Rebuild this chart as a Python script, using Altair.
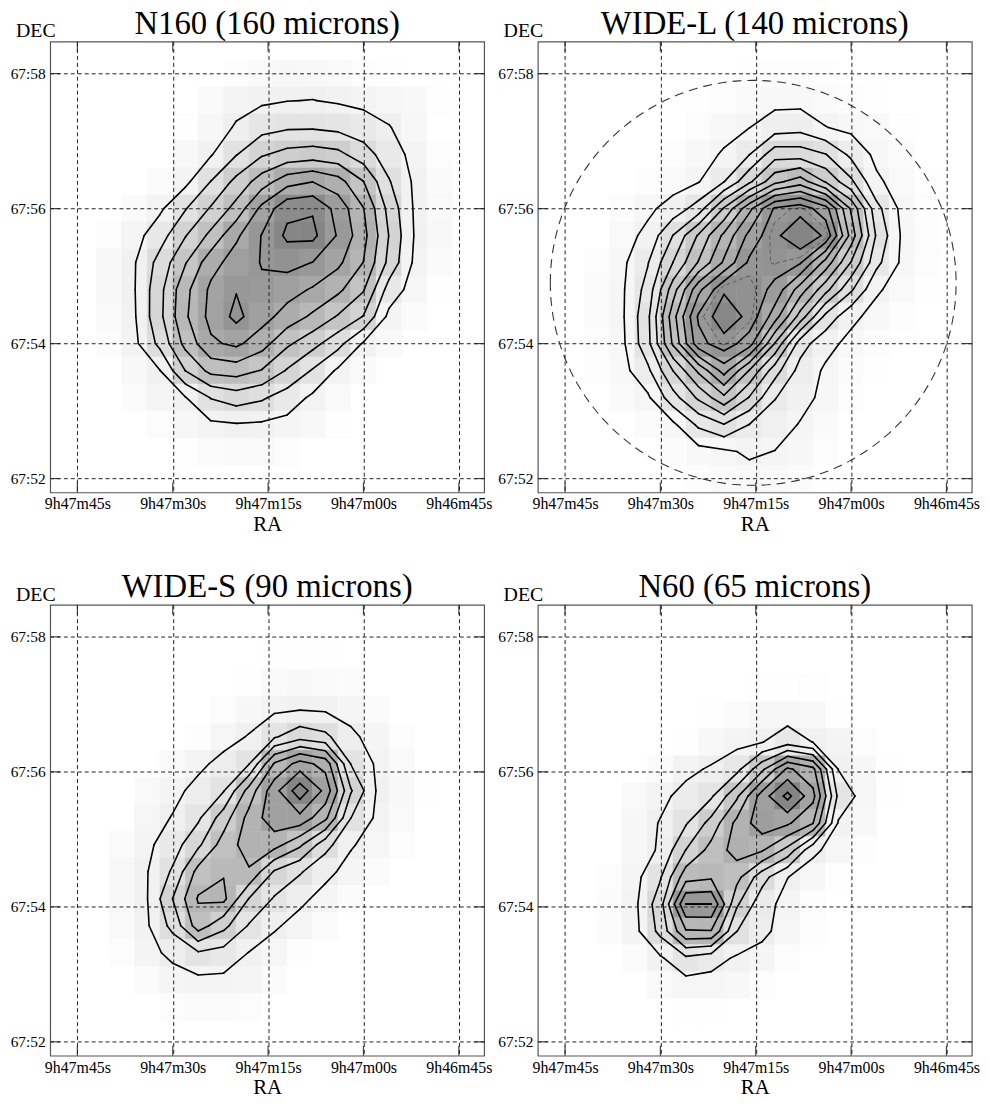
import altair as alt
import pandas as pd
import numpy as np

SERIF = "Liberation Serif"

# ---------------- axes / layout values ----------------
RA_TICKS = [45, 30, 15, 0, -15]               # seconds of RA relative to 9h47m00s
RA_LABELS = ["9h47m45s", "9h47m30s", "9h47m15s", "9h47m00s", "9h46m45s"]
DEC_TICKS = [52, 54, 56, 58]                  # arcmin above +67 deg
DEC_LABELS = ["67:52", "67:54", "67:56", "67:58"]

RA_LEFT, RA_RIGHT = 49.28, -18.98
DEC_BOTTOM, DEC_TOP = 51.794, 58.475
PANEL_W, PANEL_H = 437.3, 454.4

TITLES = ["N160 (160 microns)", "WIDE-L (140 microns)", "WIDE-S (90 microns)", "N60 (65 microns)"]

# ---------------- surface-brightness maps (values in units of contour step) ----------------
N160_RA = [40, 36, 32, 28, 24, 20, 16, 12, 8, 4, 0, -4, -8, -12]
N160_DEC = [58.0, 57.6, 57.2, 56.8, 56.4, 56.0, 55.6, 55.2, 54.8, 54.4, 54.0, 53.6, 53.2, 52.8, 52.4]
N160_MAP = [
    [0, 0, 0, 0, 0, 0.2, 0.4, 0.53, 0.5, 0.4, 0.2, 0.1, 0, 0],
    [0, 0, 0, 0, 0.35, 0.72, 0.85, 0.98, 1.02, 0.9, 0.76, 0.6, 0.44, 0.1],
    [0, 0, 0, 0.09, 0.57, 1.09, 1.66, 1.89, 1.91, 1.76, 1.46, 1.05, 0.55, 0],
    [0, 0, 0, 0.44, 0.93, 1.96, 2.89, 3.34, 3.49, 3.28, 2.46, 1.48, 0.72, 0.2],
    [0, 0, 0.28, 0.76, 2.02, 3.28, 4.49, 5.6, 5.98, 5.4, 4.02, 2.08, 0.85, 0.35],
    [0, 0.36, 0.84, 1.94, 3.10, 4.36, 6.27, 7.75, 7.9, 6.64, 5.04, 2.68, 0.9, 0.4],
    [0.17, 0.65, 1.58, 2.95, 4.26, 5.82, 7.04, 8.2, 8.25, 6.9, 5.33, 2.98, 0.96, 0.45],
    [0.45, 0.94, 2.37, 3.94, 5.61, 6.47, 7.05, 7.34, 6.98, 6.22, 4.98, 2.73, 0.84, 0.35],
    [0.47, 0.96, 2.72, 4.72, 6.2, 6.95, 6.85, 6.41, 5.89, 5.23, 4.09, 1.58, 0.59, 0.1],
    [0.43, 0.91, 2.77, 4.85, 6.31, 7.25, 6.4, 5.58, 4.82, 3.9, 2.95, 0.75, 0.27, 0],
    [0.3, 0.78, 2.27, 4.31, 5.83, 6.21, 5.42, 4.18, 3.34, 2.33, 0.88, 0.4, 0, 0],
    [0, 0.5, 0.98, 3.02, 4.31, 4.45, 3.95, 2.91, 1.91, 0.84, 0.36, 0, 0, 0],
    [0, 0.25, 0.65, 0.96, 2.05, 2.48, 2.15, 1.52, 0.82, 0.4, 0, 0, 0, 0],
    [0, 0, 0.2, 0.56, 0.83, 0.93, 0.87, 0.71, 0.44, 0.1, 0, 0, 0, 0],
    [0, 0, 0, 0.05, 0.3, 0.41, 0.38, 0.2, 0, 0, 0, 0, 0, 0],
]
N160_LEVELS = [1, 2, 3, 4, 5, 6, 7, 8]

WIDEL_RA = [40, 36, 32, 28, 24, 20, 16, 12, 8, 4, 0, -4, -8, -12]
WIDEL_DEC = [58.0, 57.6, 57.2, 56.8, 56.4, 56.0, 55.6, 55.2, 54.8, 54.4, 54.0, 53.6, 53.2, 52.8, 52.4, 52.0]
WIDEL_MAP = [
    [0, 0, 0, 0, 0, 0, 0.1, 0.25, 0.25, 0.15, 0, 0, 0, 0],
    [0, 0, 0, 0, 0.05, 0.25, 0.62, 0.72, 0.71, 0.47, 0.25, 0.05, 0, 0],
    [0, 0, 0, 0, 0.25, 0.7, 0.99, 1.52, 1.65, 1.03, 0.76, 0.56, 0.1, 0],
    [0, 0, 0, 0.27, 0.66, 1.1, 1.99, 3.6, 3.55, 3.05, 1.77, 0.75, 0.38, 0],
    [0, 0, 0.2, 0.6, 0.95, 1.97, 3.8, 5.7, 6.5, 4.9, 3.2, 1.18, 0.55, 0.1],
    [0, 0.3, 0.79, 1.4, 2.45, 5.11, 7.74, 10.15, 10.6, 9.4, 5.86, 2.32, 0.74, 0.2],
    [0, 0.6, 1.26, 3.03, 5.13, 7.22, 9.29, 10.74, 11.9, 10.8, 6.6, 2.86, 0.87, 0.3],
    [0.3, 0.79, 1.93, 4.02, 6.08, 8.16, 10.2, 10.5, 10.1, 7.61, 4.95, 2.28, 0.82, 0.3],
    [0.38, 0.86, 2.37, 5.55, 8.72, 10.85, 10.71, 9.69, 7.51, 5.34, 3.16, 1.14, 0.56, 0.08],
    [0.38, 0.86, 2.75, 6.6, 10.16, 11.7, 10.7, 8.47, 5.59, 2.71, 1.25, 0.64, 0.15, 0],
    [0.3, 0.79, 2.68, 6.16, 9.65, 10.57, 9.45, 5.95, 2.45, 1.32, 0.72, 0.25, 0, 0],
    [0.2, 0.67, 1.77, 4.02, 6.21, 8.42, 5.94, 3.43, 1.62, 0.85, 0.38, 0.05, 0, 0],
    [0, 0.5, 0.83, 2.61, 4.19, 5.77, 3.93, 2.05, 1.33, 0.75, 0.25, 0, 0, 0],
    [0, 0, 0.35, 0.8, 2.2, 2.97, 1.99, 1.47, 0.94, 0.45, 0, 0, 0, 0],
    [0, 0, 0, 0.35, 0.66, 0.84, 1.15, 0.98, 0.75, 0.3, 0, 0, 0, 0],
    [0, 0, 0, 0, 0.2, 0.45, 0.66, 0.6, 0.35, 0.05, 0, 0, 0, 0],
]
WIDEL_LEVELS = [1, 2, 3, 4, 5, 6, 7, 8, 9, 10, 11]
WIDEL_DASHED_LEVELS = [10.45]     # faint dashed inner contour drawn on the WIDE-L map
# dashed aperture circle on the WIDE-L map: centre (RA s, Dec '), radius in arcmin
BEAM_RA, BEAM_DEC, BEAM_RADIUS_ARCMIN = 15.4, 54.9, 3.0

WIDES_RA = [42, 38, 34, 30, 26, 22, 18, 14, 10, 6, 2, -2, -6, -10]
WIDES_DEC = [57.72, 57.32, 56.92, 56.52, 56.12, 55.72, 55.32, 54.92, 54.52, 54.12, 53.72, 53.32, 52.92, 52.52]
WIDES_MAP = [
    [0, 0, 0, 0, 0, 0, 0, 0.05, 0.1, 0.05, 0, 0, 0, 0],
    [0, 0, 0, 0, 0, 0, 0.06, 0.44, 0.49, 0.44, 0.25, 0, 0, 0],
    [0, 0, 0, 0, 0, 0.19, 0.56, 0.86, 0.98, 0.9, 0.72, 0.31, 0, 0],
    [0, 0, 0, 0, 0.15, 0.66, 1.06, 1.89, 2.62, 2.23, 1.17, 0.69, 0.2, 0],
    [0, 0, 0, 0.44, 0.79, 1.28, 1.95, 5.11, 6.39, 5.65, 1.98, 0.88, 0.4, 0],
    [0, 0, 0.44, 0.75, 1.28, 1.94, 4.41, 6.65, 8.6, 6.71, 3.11, 0.98, 0.5, 0.05],
    [0, 0, 0.6, 1.05, 1.82, 3.51, 5.33, 6.63, 6.72, 5.26, 2.02, 0.86, 0.4, 0],
    [0, 0.3, 0.81, 1.53, 2.79, 4.45, 5.45, 5.39, 4.19, 2.38, 1.08, 0.66, 0.2, 0],
    [0, 0.5, 0.97, 2.14, 4.35, 4.92, 4.9, 2.88, 2.11, 1.22, 0.72, 0.25, 0, 0],
    [0, 0.52, 0.98, 3.02, 5.1, 5.25, 2.96, 1.9, 1.19, 0.72, 0.3, 0, 0, 0],
    [0, 0.43, 0.9, 2.31, 4.5, 3.3, 1.91, 1.11, 0.7, 0.25, 0, 0, 0, 0],
    [0, 0.2, 0.75, 1.2, 1.9, 1.63, 0.97, 0.62, 0.15, 0, 0, 0, 0, 0],
    [0, 0, 0.3, 0.69, 0.81, 0.8, 0.69, 0.3, 0, 0, 0, 0, 0, 0],
    [0, 0, 0, 0.2, 0.31, 0.31, 0.2, 0, 0, 0, 0, 0, 0, 0],
]
WIDES_LEVELS = [1, 2, 3, 4, 5, 6, 7, 8]

N60_RA = [42, 38, 34, 30, 26, 22, 18, 14, 10, 6, 2, -2, -6, -10]
N60_DEC = [57.64, 57.24, 56.84, 56.44, 56.04, 55.64, 55.24, 54.84, 54.44, 54.04, 53.64, 53.24, 52.84, 52.44]
N60_MAP = [
    [0, 0, 0, 0, 0, 0, 0, 0, 0, 0, 0, 0, 0, 0],
    [0, 0, 0, 0, 0, 0, 0, 0.05, 0.1, 0.05, 0, 0, 0, 0],
    [0, 0, 0, 0, 0, 0.05, 0.3, 0.53, 0.61, 0.5, 0.1, 0, 0, 0],
    [0, 0, 0, 0, 0.1, 0.5, 0.75, 0.97, 1.58, 0.98, 0.72, 0.2, 0, 0],
    [0, 0, 0, 0.3, 0.79, 1.1, 1.66, 3.77, 6.19, 5.28, 0.97, 0.52, 0.05, 0],
    [0, 0, 0.38, 0.8, 1.27, 1.86, 3.81, 6.5, 8.3, 6.32, 1.76, 0.6, 0.1, 0],
    [0, 0, 0.56, 1.05, 1.9, 3.37, 5.27, 6.6, 6.16, 5.04, 0.9, 0.45, 0, 0],
    [0, 0, 0.56, 1.11, 3.02, 4.35, 5.4, 5.1, 3.68, 1.19, 0.6, 0.15, 0, 0],
    [0, 0.2, 0.71, 1.91, 4.6, 4.85, 4.35, 2.38, 1.02, 0.55, 0.1, 0, 0, 0],
    [0, 0.3, 0.8, 2.58, 7.0, 7.0, 3.16, 1.37, 0.68, 0.2, 0, 0, 0, 0],
    [0, 0.25, 0.74, 2.29, 4.9, 4.95, 2.02, 1.2, 0.64, 0.15, 0, 0, 0, 0],
    [0, 0, 0.3, 0.87, 1.8, 1.4, 0.87, 0.69, 0.2, 0, 0, 0, 0, 0],
    [0, 0, 0, 0.44, 0.59, 0.6, 0.5, 0.2, 0, 0, 0, 0, 0, 0],
    [0, 0, 0, 0, 0.06, 0.06, 0, 0, 0, 0, 0, 0, 0, 0],
]
N60_LEVELS = [1, 2, 3, 4, 5, 6, 7, 8]


# ---------------- helpers ----------------
def label_expr(vals, labels):
    e = "''"
    for v, l in reversed(list(zip(vals, labels))):
        e = f"datum.value == {v} ? '{l}' : ({e})"
    return e


def image_cells(ras, decs, grid):
    vmax = max(max(r) for r in grid)
    hx = abs(ras[1] - ras[0]) / 2.0
    hy = abs(decs[1] - decs[0]) / 2.0
    rows = []
    for i, d in enumerate(decs):
        for j, r in enumerate(ras):
            v = grid[i][j]
            if v < 0.05:
                continue
            g = int(round(255 - 122 * min(1.0, v / vmax)))
            rows.append({"x": r + hx, "x2": r - hx, "y": d - hy, "y2": d + hy,
                         "shade": "#%02x%02x%02x" % (g, g, g)})
    return pd.DataFrame(rows)


def contour_segments(ras, decs, grid, levels):
    out = []
    for i in range(len(decs) - 1):
        for j in range(len(ras) - 1):
            c = [(ras[j], decs[i], grid[i][j]), (ras[j + 1], decs[i], grid[i][j + 1]),
                 (ras[j + 1], decs[i + 1], grid[i + 1][j + 1]), (ras[j], decs[i + 1], grid[i + 1][j])]
            for L in levels:
                pts = []
                for k in range(4):
                    x0, y0, v0 = c[k]
                    x1, y1, v1 = c[(k + 1) % 4]
                    if (v0 >= L) != (v1 >= L):
                        t = (L - v0) / (v1 - v0)
                        pts.append((x0 + t * (x1 - x0), y0 + t * (y1 - y0)))
                    else:
                        pts.append(None)
                found = [p for p in pts if p is not None]
                pairs = []
                if len(found) == 2:
                    pairs = [(found[0], found[1])]
                elif len(found) == 4:
                    centre = sum(cc[2] for cc in c) / 4.0
                    if (centre >= L) == (c[0][2] >= L):
                        pairs = [(pts[0], pts[1]), (pts[2], pts[3])]
                    else:
                        pairs = [(pts[3], pts[0]), (pts[1], pts[2])]
                for p, q in pairs:
                    out.append({"x": p[0], "y": p[1], "x2": q[0], "y2": q[1]})
    return pd.DataFrame(out)


def frame_ticks():
    dy = 10.0 / 67.95
    dx = 10.0 / 6.407
    rows = []
    for t in RA_TICKS:
        rows.append({"x": t, "x2": t, "y": DEC_BOTTOM, "y2": DEC_BOTTOM + dy})
        rows.append({"x": t, "x2": t, "y": DEC_TOP, "y2": DEC_TOP - dy})
    for d in DEC_TICKS:
        rows.append({"x": RA_LEFT, "x2": RA_LEFT - dx, "y": d, "y2": d})
        rows.append({"x": RA_RIGHT, "x2": RA_RIGHT + dx, "y": d, "y2": d})
    return pd.DataFrame(rows)


xscale = alt.Scale(domain=[RA_RIGHT, RA_LEFT], reverse=True, nice=False, zero=False)
yscale = alt.Scale(domain=[DEC_BOTTOM, DEC_TOP], nice=False, zero=False)

xaxis = alt.Axis(values=RA_TICKS, labelExpr=label_expr(RA_TICKS, RA_LABELS), title="RA",
                 titleFont=SERIF, titleFontSize=21, titleFontWeight="normal", titleColor="black",
                 titleY=38.5, titleBaseline="alphabetic",
                 labelFont=SERIF, labelFontSize=16, labelColor="black", labelPadding=3.5,
                 labelFlush=False, labelOverlap=False,
                 ticks=False, tickSize=0, domain=False,
                 grid=True, gridDash=[4, 3], gridColor="#222222", gridWidth=1, gridOpacity=1,
                 zindex=1)
yaxis = alt.Axis(values=DEC_TICKS, labelExpr=label_expr(DEC_TICKS, DEC_LABELS), title="DEC",
                 titleFont=SERIF, titleFontSize=20, titleFontWeight="normal", titleColor="black",
                 titleAngle=0, titleX=-15, titleY=-4.7, titleAlign="center", titleBaseline="alphabetic",
                 labelFont=SERIF, labelFontSize=15.5, labelColor="black", labelPadding=5,
                 ticks=False, tickSize=0, domain=False,
                 grid=True, gridDash=[4, 3], gridColor="#222222", gridWidth=1, gridOpacity=1,
                 zindex=1)


def X():
    return alt.X("x:Q", scale=xscale, axis=xaxis)


def Y():
    return alt.Y("y:Q", scale=yscale, axis=yaxis)


def panel(title, ras, decs, grid, levels, beam=False, dashed_levels=None):
    cells = image_cells(ras, decs, grid)
    segs = contour_segments(ras, decs, grid, levels)
    img = alt.Chart(cells).mark_rect(clip=True, strokeWidth=0.6).encode(
        x=X(), x2="x2:Q", y=Y(), y2="y2:Q",
        fill=alt.Fill("shade:N", scale=None), stroke=alt.Stroke("shade:N", scale=None))
    cont = alt.Chart(segs).mark_rule(clip=True, color="black", strokeWidth=1.6, strokeCap="round").encode(
        x=X(), x2="x2:Q", y=Y(), y2="y2:Q")
    ticks = alt.Chart(frame_ticks()).mark_rule(color="#444444", strokeWidth=1.2).encode(
        x=X(), x2="x2:Q", y=Y(), y2="y2:Q")
    head = alt.Chart(pd.DataFrame({"t": [title]})).mark_text(
        font=SERIF, fontSize=33, color="black", align="center", baseline="alphabetic").encode(
        text="t:N", x=alt.value(PANEL_W / 2), y=alt.value(-7.5))
    layers = [img]
    if dashed_levels:
        dsegs = contour_segments(ras, decs, grid, dashed_levels)
        layers.append(alt.Chart(dsegs).mark_rule(clip=True, color="#555555", strokeWidth=0.9,
                                                 strokeDash=[4, 3]).encode(
            x=X(), x2="x2:Q", y=Y(), y2="y2:Q"))
    layers.append(cont)
    if beam:
        t = np.linspace(0, 2 * np.pi, 181)
        ra_per_arcmin = 60.0 / (15.0 * np.cos(np.radians(67.0 + 54.9 / 60.0)))
        bdf = pd.DataFrame({
            "k": np.arange(len(t)),
            "x": BEAM_RA + BEAM_RADIUS_ARCMIN * ra_per_arcmin * np.cos(t),
            "y": BEAM_DEC + BEAM_RADIUS_ARCMIN * np.sin(t),
        })
        layers.append(alt.Chart(bdf).mark_line(clip=True, color="#333333", strokeWidth=1.1,
                                               strokeDash=[9, 6]).encode(x=X(), y=Y(), order="k:Q"))
    layers += [ticks, head]
    return alt.layer(*layers).properties(width=PANEL_W, height=PANEL_H)


p1 = panel(TITLES[0], N160_RA, N160_DEC, N160_MAP, N160_LEVELS)
p2 = panel(TITLES[1], WIDEL_RA, WIDEL_DEC, WIDEL_MAP, WIDEL_LEVELS, beam=True,
           dashed_levels=WIDEL_DASHED_LEVELS)
p3 = panel(TITLES[2], WIDES_RA, WIDES_DEC, WIDES_MAP, WIDES_LEVELS)
p4 = panel(TITLES[3], N60_RA, N60_DEC, N60_MAP, N60_LEVELS)

chart = alt.concat(p1, p2, p3, p4, columns=2,
                   spacing={"row": 112.6, "column": 53.4}, bounds="flush").properties(
    padding={"left": 1.5, "top": -5.4, "right": 0, "bottom": -3},
    background="white",
).configure_view(stroke="#555555", strokeWidth=1.2)

chart.save("out.html", embed_options={"renderer": "svg", "actions": False})
